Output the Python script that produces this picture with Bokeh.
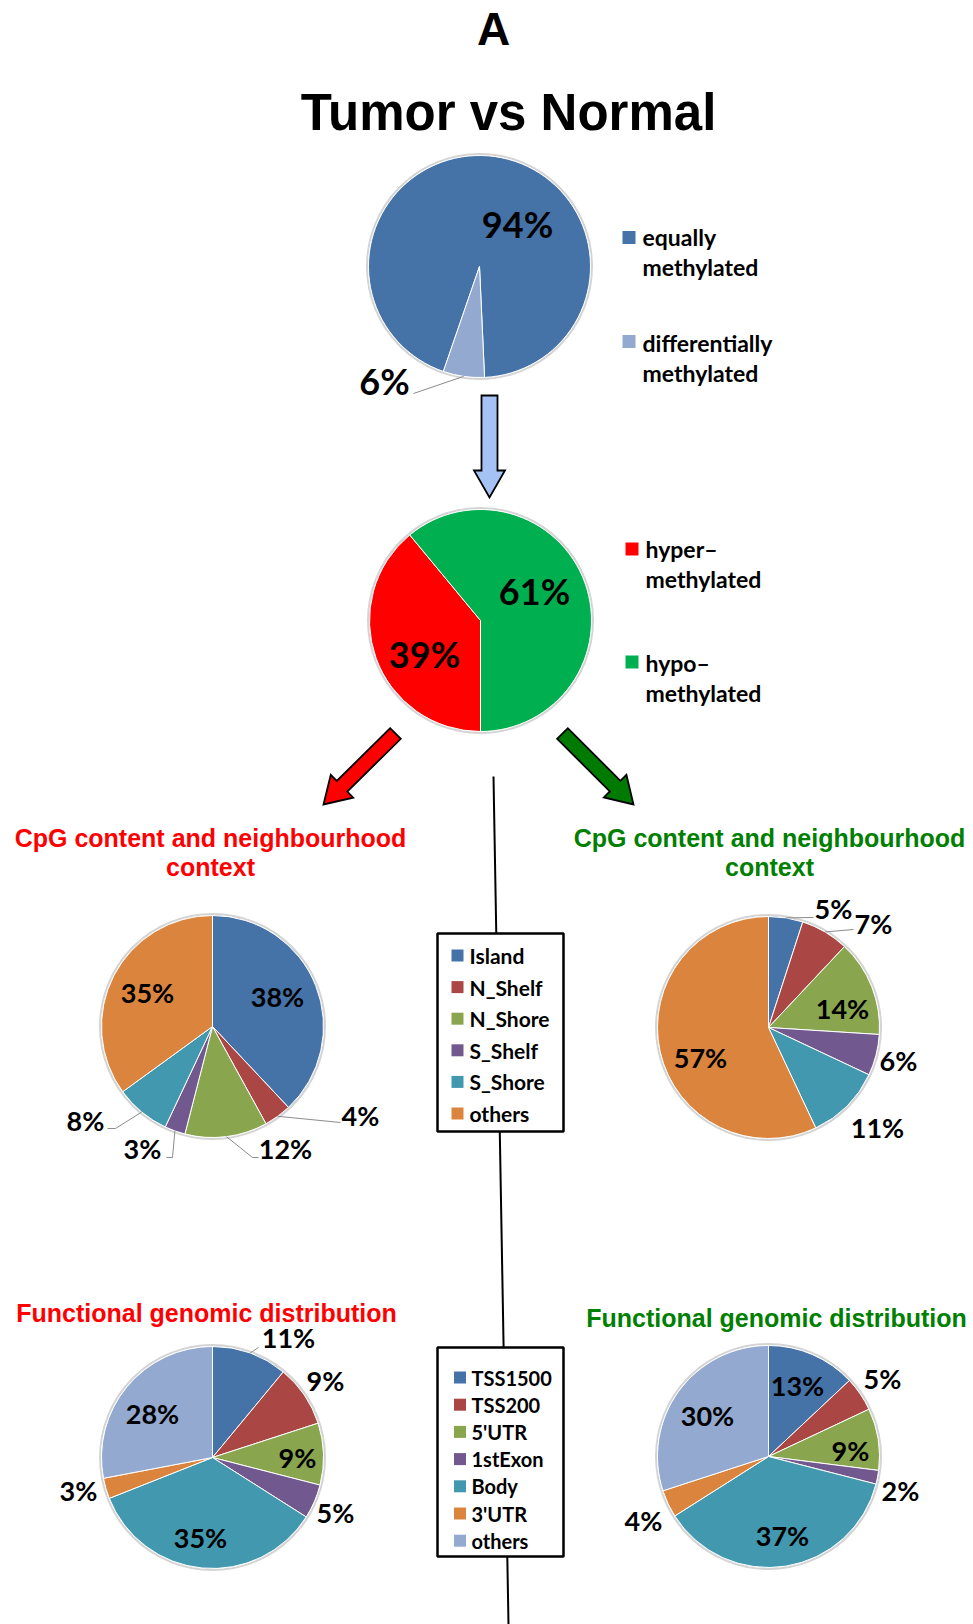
import math
from bokeh.plotting import figure
from bokeh.models import Range1d, ColumnDataSource
from bokeh.core.properties import value
from bokeh.embed import file_html
from bokeh.resources import INLINE

W, H = 973, 1624

# ---------------- data ----------------
overview_labels = ["equally\nmethylated", "differentially\nmethylated"]
overview_values = [94, 6]

direction_labels = ["hyper–\nmethylated", "hypo–\nmethylated"]
direction_values = [39, 61]

cpg_categories = ["Island", "N_Shelf", "N_Shore", "S_Shelf", "S_Shore", "others"]
cpg_hyper = [38, 4, 12, 3, 8, 35]
cpg_hypo = [5, 7, 14, 6, 11, 57]

func_categories = ["TSS1500", "TSS200", "5'UTR", "1stExon", "Body", "3'UTR", "others"]
func_hyper = [11, 9, 9, 5, 35, 3, 28]
func_hypo = [13, 5, 9, 2, 37, 4, 30]

# ---------------- styles ----------------
overview_colors = ["#4572A7", "#93A9CF"]
direction_colors = ["#FF0000", "#00B050"]
cpg_colors = ["#4572A7", "#AA4643", "#89A54E", "#71588F", "#4198AF", "#DB843D"]
func_colors = ["#4572A7", "#AA4643", "#89A54E", "#71588F", "#4198AF", "#DB843D", "#93A9CF"]
RED_T = "#FF0000"
GREEN_T = "#008000"
LBL_FONT = "Lato"
TTL_FONT = "Liberation Sans"
R = 111

p = figure(width=W, height=H, x_range=Range1d(0, W), y_range=Range1d(0, H),
           output_backend="svg", toolbar_location=None,
           x_axis_type=None, y_axis_type=None, min_border=0)
p.outline_line_color = None
p.grid.visible = False
p.background_fill_color = "white"
p.border_fill_color = "white"


def Y(py):
    return H - py


def txt(xs, ys, texts, size, color="black", font=LBL_FONT, align="center", baseline="middle"):
    p.text(x=xs, y=[Y(v) for v in ys], text=texts, text_font=value(font),
           text_font_style="bold", text_font_size=size, text_color=color,
           text_align=align, text_baseline=baseline)


def arrow(x0, y0, x1, y1, shaft_w, head_w, head_len, fill):
    dx, dy = x1 - x0, y1 - y0
    L = math.hypot(dx, dy)
    ux, uy = dx / L, dy / L
    nx, ny = -uy, ux
    bx, by = x1 - ux * head_len, y1 - uy * head_len
    s, h = shaft_w / 2, head_w / 2
    pts = [(x0 + nx * s, y0 + ny * s), (bx + nx * s, by + ny * s), (bx + nx * h, by + ny * h),
           (x1, y1), (bx - nx * h, by - ny * h), (bx - nx * s, by - ny * s), (x0 - nx * s, y0 - ny * s)]
    p.patch(x=[q[0] for q in pts], y=[Y(q[1]) for q in pts], fill_color=fill,
            line_color="black", line_width=1.8, line_join="miter")


def draw_pie(cx, cy, vals, colors, start_deg, label_offsets, label_size, leaders=None):
    total = float(sum(vals))
    starts, ends, mids = [], [], []
    acc = start_deg
    for v in vals:
        a0 = acc
        a1 = acc + 360.0 * v / total
        starts.append(math.radians(90 - a1))
        ends.append(math.radians(90 - a0))
        mids.append((a0 + a1) / 2)
        acc = a1
    p.circle(x=[cx], y=[Y(cy)], radius=R + 1.5, fill_color=None, line_color="#d4d4d4", line_width=2)
    src = ColumnDataSource(dict(x=[cx] * len(vals), y=[Y(cy)] * len(vals),
                                s=starts, e=ends, c=colors))
    p.wedge(x="x", y="y", radius=R, start_angle="s", end_angle="e", fill_color="c",
            line_color="white", line_width=1, source=src)
    if leaders:
        xs, ys = [], []
        for i, pts in leaders.items():
            m = math.radians(mids[i])
            lx = [cx + R * math.sin(m)] + [cx + q[0] for q in pts]
            ly = [cy - R * math.cos(m)] + [cy + q[1] for q in pts]
            xs.append(lx)
            ys.append([Y(v) for v in ly])
        p.multi_line(xs=xs, ys=ys, line_color="#8c8c8c", line_width=1)
    txt([cx + o[0] for o in label_offsets], [cy + o[1] for o in label_offsets],
        ["%d%%" % v for v in vals], label_size)


# ---------------- headings ----------------
txt([493], [28], ["A"], "46px", font=TTL_FONT)
txt([508], [112], ["Tumor vs Normal"], "51px", font=TTL_FONT)

# ---------------- connecting line (behind legend boxes) ----------------
p.line(x=[493, 508], y=[Y(776), Y(1624)], line_color="black", line_width=2)

# ---------------- top pie ----------------
draw_pie(479, 266, overview_values, overview_colors, 199,
         [(38, -43), (-95, 114)], "36px", leaders={1: [(-66, 127)]})
sq_y = [237, 341]
p.rect(x=[628.5] * 2, y=[Y(v) for v in sq_y], width=13, height=13,
       fill_color=overview_colors, line_color=None)
for i, lab in enumerate(overview_labels):
    l1, l2 = lab.split("\n")
    c = [236, 342][i]
    txt([642, 642], [c, c + 30.5], [l1, l2], "23px", align="left")

# ---------------- arrow down ----------------
arrow(489, 395, 489, 497, 16, 31, 27, "#A4C2F4")

# ---------------- middle pie ----------------
draw_pie(480, 620, direction_values, direction_colors, 180,
         [(-56, 33), (54, -30)], "36px")
sq_y2 = [548.5, 661.5]
p.rect(x=[631.5] * 2, y=[Y(v) for v in sq_y2], width=13, height=13,
       fill_color=direction_colors, line_color=None)
for i, lab in enumerate(direction_labels):
    l1, l2 = lab.split("\n")
    c = [548, 662][i]
    txt([645, 645], [c, c + 30.5], [l1, l2], "23px", align="left")

# ---------------- diagonal arrows ----------------
arrow(395, 733, 323, 804, 15, 32, 26, "#FF0000")
arrow(562, 733, 633, 804, 15, 32, 26, "#007A00")

# ---------------- section titles ----------------
txt([210, 210], [837, 866], ["CpG content and neighbourhood", "context"], "25px", color=RED_T, font=TTL_FONT)
txt([769, 769], [837, 866], ["CpG content and neighbourhood", "context"], "25px", color=GREEN_T, font=TTL_FONT)
txt([206], [1312], ["Functional genomic distribution"], "25px", color=RED_T, font=TTL_FONT)
txt([776], [1317], ["Functional genomic distribution"], "25px", color=GREEN_T, font=TTL_FONT)

# ---------------- CpG pies ----------------
draw_pie(212, 1026, cpg_hyper, cpg_colors, 0,
         [(65, -30), (148, 89), (73, 122), (-70, 122), (-127, 94), (-65, -34)], "27px",
         leaders={1: [(128, 96)], 2: [(40, 131), (46, 131)], 3: [(-40, 131), (-46, 131)],
                  4: [(-97, 102), (-105, 102)]})
draw_pie(768, 1027, cpg_hypo, cpg_colors, 0,
         [(65, -119), (105, -104), (74, -19), (130, 33), (109, 100), (-68, 30)], "27px",
         leaders={0: [(45, -110)], 1: [(85, -98)]})

# ---------------- functional pies ----------------
draw_pie(212, 1457, func_hyper, func_colors, 0,
         [(76, -120), (113, -77), (85, 0), (123, 55), (-12, 80), (-134, 33), (-60, -44)], "27px",
         leaders={0: [(46, -110)]})
draw_pie(768, 1456, func_hypo, func_colors, 0,
         [(29, -71), (114, -78), (82, -6), (132, 34), (14, 79), (-125, 64), (-61, -41)], "27px")

# ---------------- legend boxes ----------------
p.quad(left=[437, 437], right=[563, 563], top=[Y(933), Y(1347)], bottom=[Y(1131), Y(1556)],
       fill_color="white", line_color="black", line_width=2.5)
rows1 = [955 + i * 31.6 for i in range(len(cpg_categories))]
p.rect(x=[457] * len(rows1), y=[Y(v) for v in rows1], width=12, height=12,
       fill_color=cpg_colors, line_color=None)
txt([469] * len(rows1), rows1, cpg_categories, "21px", align="left")
rows2 = [1377 + i * 27.2 for i in range(len(func_categories))]
p.rect(x=[459.5] * len(rows2), y=[Y(v) for v in rows2], width=12, height=12,
       fill_color=func_colors, line_color=None)
txt([471] * len(rows2), rows2, func_categories, "20px", align="left")

open("out.html", "w").write(file_html(p, INLINE))
